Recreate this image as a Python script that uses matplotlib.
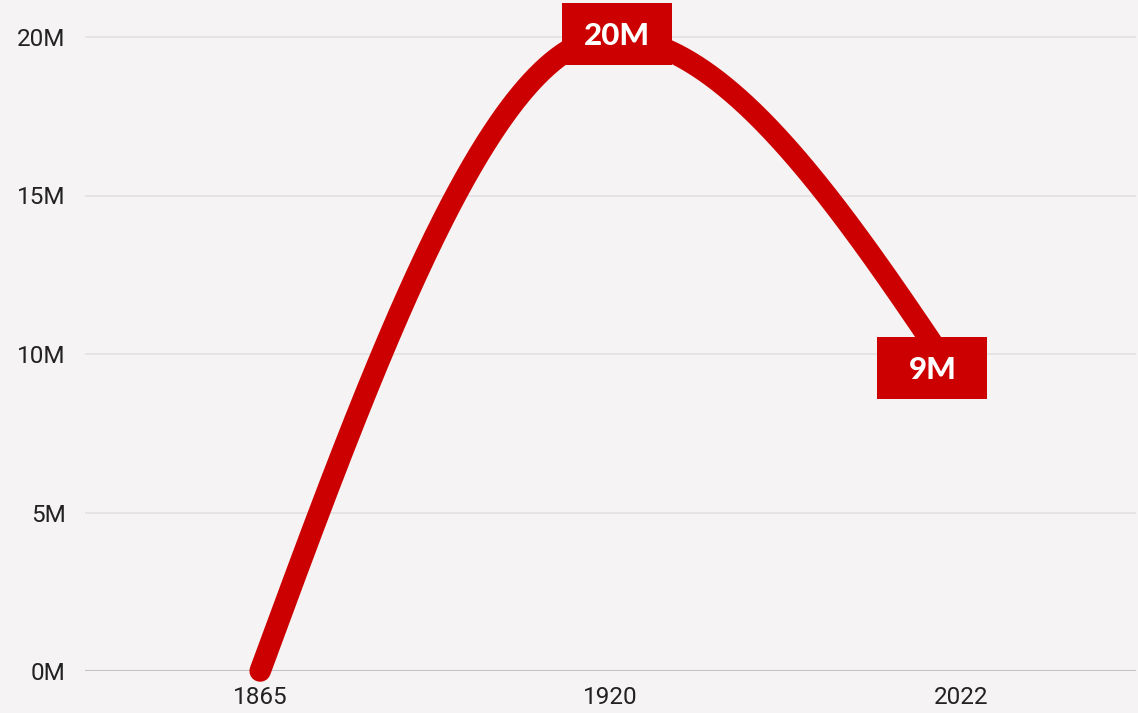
import numpy as np
import matplotlib
matplotlib.use('Agg')
import matplotlib.pyplot as plt
from matplotlib.ticker import FuncFormatter
from matplotlib.patches import Rectangle
from matplotlib.transforms import ScaledTranslation

# data (millions)
years = ['1865', '1920', '2022']
values = [0, 20, 9]
labels = [None, '20M', '9M']
yticks = [0, 5, 10, 15, 20]

RED = '#cc0000'
BG = '#f5f3f4'
DPI = 100


def monotone_x(xs, ys, n=200):
    # d3-style monotone cubic interpolation
    xs = np.asarray(xs, float)
    ys = np.asarray(ys, float)
    h = np.diff(xs)
    s = np.diff(ys) / h
    t = np.zeros_like(ys)
    for i in range(1, len(xs) - 1):
        p = (s[i - 1] * h[i] + s[i] * h[i - 1]) / (h[i - 1] + h[i])
        t[i] = (np.sign(s[i - 1]) + np.sign(s[i])) * min(abs(s[i - 1]), abs(s[i]), 0.5 * abs(p))
    t[0] = (3 * s[0] - t[1]) / 2
    t[-1] = (3 * s[-1] - t[-2]) / 2
    px, py = [], []
    for i in range(len(xs) - 1):
        u = np.linspace(0, 1, n)
        h00 = 2 * u**3 - 3 * u**2 + 1
        h10 = u**3 - 2 * u**2 + u
        h01 = -2 * u**3 + 3 * u**2
        h11 = u**3 - u**2
        px.append(xs[i] + u * h[i])
        py.append(h00 * ys[i] + h10 * h[i] * t[i] + h01 * ys[i + 1] + h11 * h[i] * t[i + 1])
    return np.concatenate(px), np.concatenate(py)


fig = plt.figure(figsize=(11.38, 7.13), dpi=DPI, facecolor=BG)
ax = fig.add_axes([85 / 1138, 42 / 713, 1051 / 1138, 671 / 713], facecolor=BG)

xpos = np.arange(len(years))
cx, cy = monotone_x(xpos, values)

ax.set_xlim(-0.5, 2.5)
ax.set_ylim(0, 20 + 37 / 31.7)

for y in yticks[1:]:
    ax.axhline(y, color='#e2e0e1', lw=1.2, zorder=0)
ax.axhline(0, color='#c4c2c3', lw=1.5, zorder=1)

ax.plot(cx, cy, color=RED, lw=15.5, solid_capstyle='round', clip_on=False, zorder=3)

# label boxes: fixed size, offset in pixels from the data point
box_w, box_h = 110, 62
offsets = [None, (6.5, 3), (-28.5, 18)]
cap = 22.5
for x, v, lab, off in zip(xpos, values, labels, offsets):
    if lab is None:
        continue
    dx, dy = off
    tr = fig.dpi_scale_trans + ScaledTranslation(x, v, ax.transData)
    rect = Rectangle(((dx - box_w / 2) / DPI, (dy - box_h / 2) / DPI),
                     box_w / DPI, box_h / DPI, transform=tr,
                     fc=RED, ec='none', zorder=4, clip_on=False)
    ax.add_patch(rect)
    ax.annotate(lab, (x, v), xytext=(dx * 0.72, (dy - cap / 2) * 0.72),
                textcoords='offset points', ha='center', va='baseline',
                color='white', fontsize=22.5, fontweight='black', family='Lato',
                zorder=5, annotation_clip=False)

ax.set_xlim(-0.5, 2.5)
ax.set_ylim(0, 20 + 37 / 31.7)
ax.set_xticks(xpos)
ax.set_xticklabels(years)
ax.set_yticks(yticks)
ax.yaxis.set_major_formatter(FuncFormatter(lambda v, _: '%dM' % v))
ax.tick_params(axis='both', length=0, labelsize=17.5, labelcolor='#222222')
ax.tick_params(axis='y', pad=14)
ax.tick_params(axis='x', pad=11)
for lbl in ax.get_xticklabels() + ax.get_yticklabels():
    lbl.set_family('Roboto')
for sp in ax.spines.values():
    sp.set_visible(False)

fig.savefig('out.png', dpi=DPI, facecolor=BG)
